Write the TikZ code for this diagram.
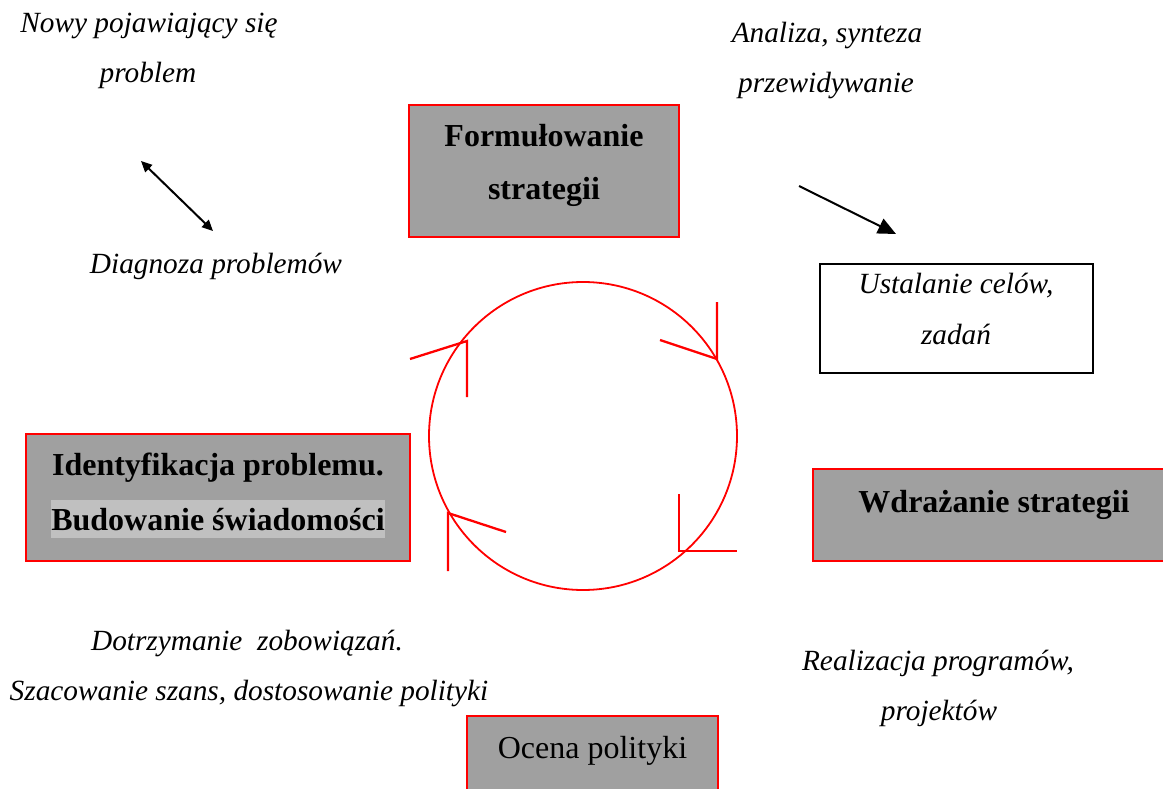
\documentclass[tikz,border=0pt]{standalone}
\usepackage{fontspec}
\setmainfont{Liberation Serif}
\usetikzlibrary{arrows.meta}
\definecolor{boxgray}{RGB}{160,160,160}
\definecolor{hlgray}{RGB}{192,192,192}
\definecolor{pred}{RGB}{255,0,0}
\begin{document}
\begin{tikzpicture}[x=1pt,y=-1pt,
  redbox/.style={draw=pred, line width=2.5pt, fill=boxgray, inner sep=0pt},
  blackbox/.style={draw=black, line width=2pt, fill=white, inner sep=0pt},
  bt/.style={anchor=base, inner sep=0pt, font=\fontsize{32}{38}\selectfont\bfseries},
  rt/.style={anchor=base, inner sep=0pt, font=\fontsize{32}{38}\selectfont},
  it/.style={anchor=base, inner sep=0pt, font=\fontsize{29.3}{35}\selectfont\itshape},
  cyc/.style={draw=pred, line width=1.8pt},
  cyctip/.style={draw=pred, line width=2.3pt, line join=miter},
  conn/.style={draw=black, line width=2pt}
]
\useasboundingbox (0,0) rectangle (1163,789);
\clip (0,0) rectangle (1163,789);

% boxes
\node[redbox, minimum width=270pt, minimum height=132pt] (form) at (544,171) {};
\node[redbox, minimum width=384pt, minimum height=127pt] (ident) at (218,497.5) {};
\node[redbox, minimum width=362pt, minimum height=92pt] (wdraz) at (994,515) {};
\node[redbox, minimum width=251pt, minimum height=104pt] (ocena) at (592.5,768) {};
\node[blackbox, minimum width=273pt, minimum height=109pt] (ustal) at (956.5,318.5) {};

% box texts
\node[bt] (formA) at (544,147) {Formułowanie};
\node[bt] (formB) at (544,200) {strategii};
\node[bt] (identA) at (218,475) {Identyfikacja problemu.};
\node[bt, fill=hlgray, text height=30pt, text depth=8pt] (identB) at (218,530) {Budowanie świadomości};
\node[bt] (wdrazT) at (994,512) {Wdrażanie strategii};
\node[rt] (ocenaT) at (592.5,758) {Ocena polityki};
\node[it] (ustalA) at (956,293) {Ustalanie celów,};
\node[it] (ustalB) at (956,344) {zadań};

% free texts
\node[it] (nowyA) at (149,33) {Nowy pojawiający się};
\node[it] (nowyB) at (148,83) {problem};
\node[it] (diag) at (216,273) {Diagnoza problemów};
\node[it] (anaA) at (827,43) {Analiza, synteza};
\node[it] (anaB) at (826,93) {przewidywanie};
\node[it] (dotA) at (247,650) {Dotrzymanie\ \ zobowiązań.};
\node[it] (dotB) at (249,700) {Szacowanie szans, dostosowanie polityki};
\node[it] (realA) at (938,670) {Realizacja programów,};
\node[it] (realB) at (939,720) {projektów};

% connectors
\coordinate (dA) at (141,161);
\coordinate (dB) at (213,231);
\draw[conn, {Triangle[length=11pt,width=10pt]}-{Triangle[length=11pt,width=10pt]}] (dA) -- (dB);
\coordinate (aA) at (799,186);
\coordinate (aB) at (896,234);
\draw[conn, -{Triangle[length=18pt,width=16pt]}] (aA) -- (aB);

% cycle
\coordinate (cc) at (583,436);
\draw[cyc] (cc) circle[radius=154];
\draw[cyctip] (410,359) -- (467,341) -- (467,397);
\draw[cyctip] (660,340) -- (717,359) -- (717,302);
\draw[cyctip] (679,494) -- (679,551) -- (737,551);
\draw[cyctip] (506,532) -- (448,513) -- (448,571);
\end{tikzpicture}
\end{document}
